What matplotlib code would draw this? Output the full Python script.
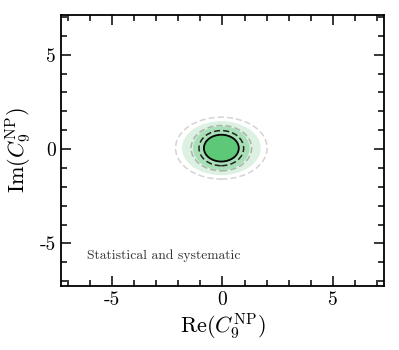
import matplotlib
matplotlib.use("Agg")
import matplotlib.pyplot as plt
from matplotlib.patches import Ellipse

plt.rcParams['font.family'] = 'serif'
plt.rcParams['font.serif'] = ['cmr10', 'DejaVu Serif']
plt.rcParams['mathtext.fontset'] = 'cm'
plt.rcParams['axes.unicode_minus'] = False
plt.rcParams['axes.formatter.use_mathtext'] = True

# best fit point and contour semi-axes (Re, Im)
center = (-0.05, 0.05)
fill_widths = [1.78, 1.28, 0.79]      # 3 sigma, 2 sigma, 1 sigma
fill_heights = [1.43, 1.16, 0.71]
dash_widths = [2.07, 1.37, 1.01]      # stat only contours
dash_heights = [1.64, 1.20, 0.93]
ticks = [-5, 0, 5]
tick_labels = ['-5', '0', '5']

fill_colors = ['#dcf1e1', '#a8dfb6', '#5cc878']
dash_colors = ['#d4d4d4', '#a8b4ab', '#222222']

fig = plt.figure(figsize=(3.99, 3.5), dpi=100)
ax = fig.add_axes([0.153, 0.183, 0.809, 0.774])

for w, h, c in zip(fill_widths, fill_heights, fill_colors):
    ax.add_patch(Ellipse(center, 2 * w, 2 * h, facecolor=c, edgecolor='none'))
ax.add_patch(Ellipse(center, 2 * fill_widths[2], 2 * fill_heights[2],
                     facecolor='none', edgecolor='black', lw=1.3))
for w, h, c in zip(dash_widths, dash_heights, dash_colors):
    ax.add_patch(Ellipse(center, 2 * w, 2 * h, facecolor='none', edgecolor=c,
                         lw=1.1, ls=(0, (4, 2))))

ax.set_xlim(-7.3, 7.3)
ax.set_ylim(-7.25, 7.1)
ax.set_xticks(ticks, tick_labels)
ax.set_yticks(ticks, tick_labels)
ax.set_xticks(range(-7, 8), minor=True)
ax.set_yticks(range(-7, 8), minor=True)
ax.tick_params(which='both', direction='in', top=True, right=True, labelsize=14, width=1.1)
ax.tick_params(which='major', length=7)
ax.tick_params(which='minor', length=4)
for s in ax.spines.values():
    s.set_linewidth(1.3)

ax.set_xlabel(r'$\mathrm{Re}(C_9^{\mathrm{NP}})$', fontsize=16, labelpad=2)
ax.set_ylabel(r'$\mathrm{Im}(C_9^{\mathrm{NP}})$', fontsize=16, labelpad=4)
ax.text(0.08, 0.1, 'Statistical and systematic', transform=ax.transAxes,
        fontsize=9.8, color='#333333')

fig.savefig('out.png', dpi=100)
